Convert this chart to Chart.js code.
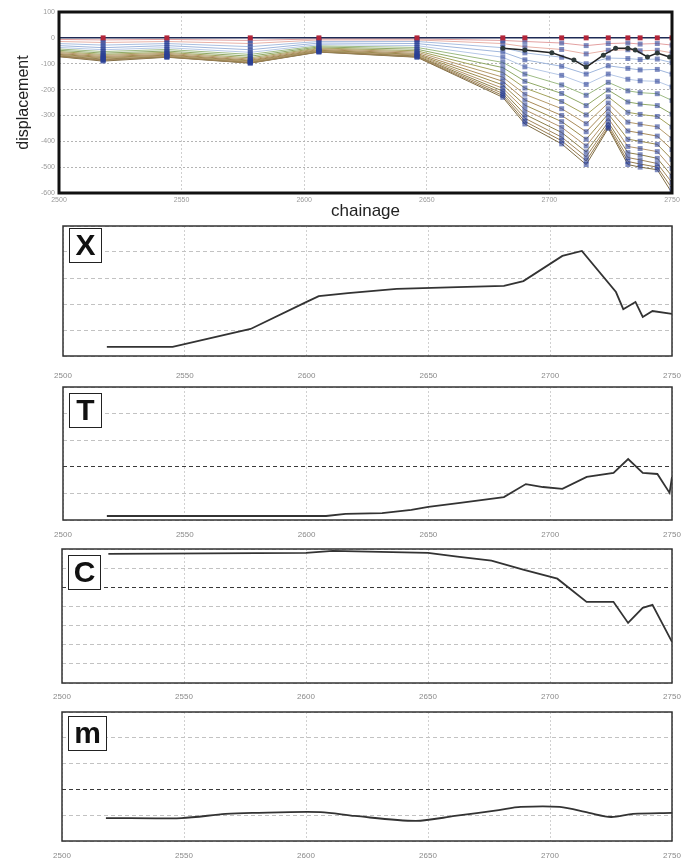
<!DOCTYPE html>
<html>
<head>
<meta charset="utf-8">
<script src="https://cdn.jsdelivr.net/npm/chart.js@4.4.0/dist/chart.umd.min.js"></script>
<style>
  body { margin: 0; background: #fff; }
  #wrap { position: relative; width: 685px; height: 864px; }
  canvas { position: absolute; left: 0; }
</style>
</head>
<body>
<div id="wrap">
  <canvas id="disp" width="685" height="222" style="top:0px"></canvas>
  <canvas id="panelX" width="685" height="160" style="top:222px"></canvas>
  <canvas id="panelT" width="685" height="163" style="top:382px"></canvas>
  <canvas id="panelC" width="685" height="160" style="top:545px"></canvas>
  <canvas id="panelM" width="685" height="159" style="top:705px"></canvas>
</div>
<script>
// survey stations along the tunnel (chainage)
const stations = [2500, 2518, 2544, 2578, 2606, 2646, 2681, 2690, 2705, 2715, 2724, 2732, 2737, 2744, 2750];

// displacement readings per survey, oldest first
const s01 = [-6, -8, -6, -10, -4, -4, -10, -14, -20, -30, -22, -20, -24, -22, -28];
const s02 = [-14, -18, -14, -22, -8, -8, -22, -34, -45, -62, -48, -46, -50, -48, -58];
const s03 = [-22, -28, -22, -34, -14, -14, -38, -58, -75, -100, -78, -80, -84, -82, -96];
const s04 = [-30, -38, -30, -46, -20, -22, -55, -85, -110, -140, -108, -118, -124, -122, -140];
const s05 = [-37, -46, -38, -56, -26, -30, -75, -112, -145, -180, -140, -160, -166, -168, -190];
const s06 = [-43, -53, -45, -64, -31, -37, -95, -140, -182, -222, -172, -205, -212, -216, -242];
const s07 = [-48, -59, -51, -71, -35, -44, -115, -168, -215, -262, -202, -248, -256, -262, -295];
const s08 = [-53, -64, -56, -77, -39, -50, -134, -194, -246, -298, -228, -288, -296, -304, -345];
const s09 = [-57, -68, -60, -82, -42, -55, -152, -218, -274, -332, -252, -326, -334, -344, -390];
const s10 = [-61, -72, -64, -86, -45, -60, -168, -240, -300, -363, -274, -360, -368, -380, -432];
const s11 = [-64, -76, -67, -89, -48, -64, -182, -260, -324, -392, -294, -392, -400, -412, -470];
const s12 = [-67, -79, -70, -92, -50, -67, -195, -278, -346, -418, -311, -420, -428, -440, -505];
const s13 = [-69, -82, -72, -94, -52, -70, -206, -296, -366, -441, -326, -444, -452, -466, -535];
const s14 = [-71, -85, -73, -96, -53, -72, -215, -311, -384, -460, -337, -463, -472, -486, -560];
const s15 = [-72, -87, -74, -97, -54, -74, -223, -323, -398, -476, -345, -478, -488, -500, -582];
const s16 = [-73, -90, -75, -98, -55, -75, -230, -333, -410, -490, -350, -490, -500, -510, -600];
const surveys = [s01, s02, s03, s04, s05, s06, s07, s08, s09, s10, s11, s12, s13, s14, s15, s16];

// crown reference line
const refChain = [2681, 2690, 2701, 2710, 2715, 2722, 2727, 2732, 2735, 2740, 2744, 2749];
const refDisp = [-40, -47, -58, -86, -113, -67, -40, -40, -47, -74, -59, -74];

// X / T / C / m profiles
const xChain = [2518, 2545, 2577, 2600, 2605, 2617, 2637, 2662, 2681, 2689, 2705, 2713, 2727, 2730, 2735, 2738, 2742, 2750];
const xVal = [0.35, 0.35, 1.04, 2.08, 2.3, 2.42, 2.58, 2.65, 2.7, 2.88, 3.85, 4.04, 2.46, 1.8, 2.08, 1.5, 1.73, 1.62];
const tChain = [2518, 2608, 2616, 2631, 2643, 2650, 2663, 2681, 2690, 2697, 2705, 2715, 2726, 2732, 2738, 2744, 2749, 2750];
const tVal = [0.15, 0.15, 0.23, 0.26, 0.38, 0.49, 0.64, 0.86, 1.35, 1.24, 1.17, 1.62, 1.77, 2.29, 1.77, 1.73, 1.02, 1.62];
const cChain = [2519, 2600, 2611, 2650, 2662, 2676, 2689, 2703, 2715, 2726, 2732, 2738, 2742, 2750];
const cVal = [6.75, 6.8, 6.9, 6.8, 6.6, 6.39, 5.92, 5.45, 4.24, 4.24, 3.14, 3.93, 4.08, 2.15];
const mChain = [2518, 2549, 2567, 2578, 2606, 2620, 2645, 2661, 2679, 2688, 2704, 2716, 2725, 2734, 2750];
const mVal = [0.89, 0.89, 1.05, 1.09, 1.12, 0.97, 0.78, 0.97, 1.2, 1.32, 1.32, 1.09, 0.93, 1.05, 1.09];

const lineColors = ['#e3a0a0', '#e8b2a8', '#a9bfe0', '#9fb6dc', '#b6c8e6', '#9dbb84', '#8fa866',
  '#a3a35c', '#b59a6a', '#a88a58', '#9c8c4e', '#b3946a', '#8e7f4a', '#a0855a', '#94794c', '#7e6c44'];

const FONT = 'Arial, "Liberation Sans", sans-serif';
const pts = (xs, ys) => xs.map((x, i) => ({x: x, y: ys[i]}));
const plain = v => String(v);

function framePlugin(width, color) {
  return {
    id: 'frame',
    afterDraw(chart) {
      const a = chart.chartArea;
      const c = chart.ctx;
      c.save();
      c.lineWidth = width;
      c.strokeStyle = color;
      c.strokeRect(a.left, a.top, a.right - a.left, a.bottom - a.top);
      c.restore();
    }
  };
}

function tagPlugin(letter, dy, w) {
  return {
    id: 'tag',
    afterDraw(chart) {
      const a = chart.chartArea;
      const c = chart.ctx;
      const x = Math.round(a.left) + 6, y = Math.round(a.top) + dy;
      c.save();
      c.fillStyle = '#fff';
      c.fillRect(x, y, w, 34);
      c.strokeStyle = '#222';
      c.lineWidth = 1;
      c.strokeRect(x + 0.5, y + 0.5, w, 34);
      c.fillStyle = '#111';
      c.font = 'bold 30px ' + FONT;
      c.textAlign = 'center';
      c.textBaseline = 'middle';
      c.fillText(letter, x + w / 2 + 0.5, y + 19);
      c.restore();
    }
  };
}

// keep the plot edges fixed, let the end labels hang over
function fixX(height) {
  return s => { s.height = height; s.paddingLeft = 0; s.paddingRight = 0; };
}

// displacement profiles
const dispSets = [];
surveys.forEach((s, i) => {
  dispSets.push({
    data: pts(stations, s), borderColor: lineColors[i], borderWidth: 1,
    pointRadius: 0, order: 10
  });
  dispSets.push({
    data: pts(stations.slice(1), s.slice(1)), showLine: false, pointStyle: 'rect',
    pointRadius: 3.5, pointBackgroundColor: 'rgba(42,64,150,0.6)', pointBorderWidth: 0, order: 5
  });
});
dispSets.push({
  data: pts(refChain, refDisp), borderColor: '#222', borderWidth: 1.5,
  pointRadius: 2.5, pointBackgroundColor: '#2f3b3a', pointBorderWidth: 0, order: 2
});
dispSets.push({
  data: stations.map(c => ({x: c, y: 0})), borderColor: '#1e2a55', borderWidth: 1.5,
  pointStyle: 'rect', pointRadius: ctx => ctx.dataIndex === 0 ? 0 : 3.5,
  pointBackgroundColor: '#b3263a', pointBorderWidth: 0, order: 1
});

new Chart(document.getElementById('disp'), {
  type: 'line',
  data: { datasets: dispSets },
  options: {
    responsive: false, animation: false, devicePixelRatio: 1,
    layout: { padding: { top: 12, right: 13, left: 0, bottom: 0 } },
    plugins: { legend: { display: false }, tooltip: { enabled: false } },
    scales: {
      x: {
        type: 'linear', min: 2500, max: 2750,
        ticks: { stepSize: 50, callback: plain, color: '#999', font: { size: 7, family: FONT }, padding: 3, maxRotation: 0 },
        grid: { color: '#cfcfcf', drawTicks: false },
        border: { display: false, dash: [2, 2] },
        title: { display: true, text: 'chainage', color: '#222', font: { size: 17, family: FONT }, padding: 0 },
        afterFit: fixX(29)
      },
      y: {
        min: -600, max: 100,
        ticks: { stepSize: 100, callback: plain, color: '#999', font: { size: 7, family: FONT }, padding: 4 },
        grid: { color: '#b4b4b4', drawTicks: false },
        border: { display: false, dash: [2, 2] },
        title: { display: true, text: 'displacement', color: '#222', font: { size: 16, family: FONT }, padding: { top: 14, bottom: 0 } },
        afterFit: s => { s.width = 59; }
      }
    }
  },
  plugins: [framePlugin(3, '#111')]
});

function panel(id, chain, vals, o) {
  new Chart(document.getElementById(id), {
    type: 'line',
    data: {
      datasets: [{
        data: pts(chain, vals), borderColor: '#333', borderWidth: 1.8,
        pointRadius: 0, tension: o.tension || 0
      }]
    },
    options: {
      responsive: false, animation: false, devicePixelRatio: 1,
      layout: { padding: { top: o.top, right: 13, left: 0, bottom: 0 } },
      plugins: { legend: { display: false }, tooltip: { enabled: false } },
      scales: {
        x: {
          type: 'linear', min: 2500, max: 2750,
          ticks: { stepSize: 50, callback: plain, color: '#8a8a8a', font: { size: 8, family: FONT }, padding: o.pad, maxRotation: 0 },
          grid: { color: '#d0d0d0', drawTicks: false },
          border: { display: false, dash: [2, 2] },
          afterFit: fixX(o.axisH)
        },
        y: {
          min: 0, max: o.max,
          ticks: { display: false, stepSize: 1 },
          grid: { color: ctx => ctx.tick.value === o.ref ? '#3a3a3a' : '#c2c2c2', drawTicks: false },
          border: { display: false, dash: [4, 3] },
          afterFit: s => { s.width = o.left; }
        }
      }
    },
    plugins: [framePlugin(1.5, '#333'), tagPlugin(o.tag, o.tagY, o.tagW)]
  });
}

panel('panelX', xChain, xVal, { top: 4, axisH: 26, pad: 15, max: 5, ref: null, left: 63, tag: 'X', tagY: 2, tagW: 32 });
panel('panelT', tChain, tVal, { top: 5, axisH: 25, pad: 10, max: 5, ref: 2, left: 63, tag: 'T', tagY: 6, tagW: 32 });
panel('panelC', cChain, cVal, { top: 4, axisH: 22, pad: 9, max: 7, ref: 5, left: 62, tag: 'C', tagY: 6, tagW: 32 });
panel('panelM', mChain, mVal, { top: 7, axisH: 23, pad: 10, max: 5, ref: 2, left: 62, tag: 'm', tagY: 4, tagW: 38, tension: 0.3 });
</script>
</body>
</html>
